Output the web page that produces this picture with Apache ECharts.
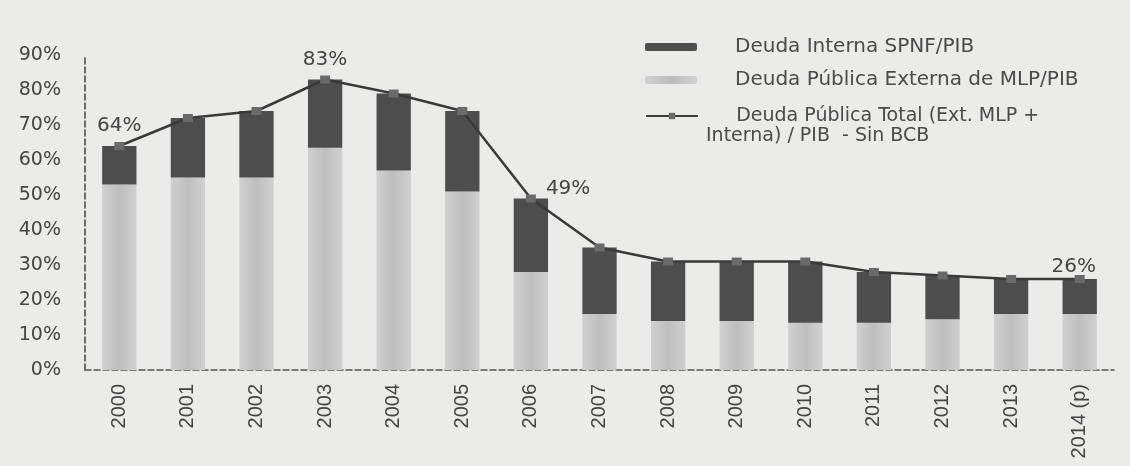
<!DOCTYPE html>
<html>
<head>
<meta charset="utf-8">
<script src="https://cdn.jsdelivr.net/npm/echarts@6/dist/echarts.min.js"></script>
<style>
  html, body { margin: 0; padding: 0; background: #ebebea; }
  #chart { width: 1130px; height: 466px; }
</style>
</head>
<body>
<div id="chart"></div>
<script>
// datos (% del PIB)
var years = ["2000", "2001", "2002", "2003", "2004", "2005", "2006", "2007",
  "2008", "2009", "2010", "2011", "2012", "2013", "2014 (p)"];
var deudaExterna = [53, 55, 55, 63.5, 57, 51, 28, 16, 14, 14, 13.5, 13.5, 14.5, 16, 16];
var deudaInterna = [11, 17, 19, 19.5, 22, 23, 21, 19, 17, 17, 17.5, 14.5, 12.5, 10, 10];
var deudaTotal = [64, 72, 74, 83, 79, 74, 49, 35, 31, 31, 31, 28, 27, 26, 26];
// años con etiqueta sobre la línea
var labelled = [0, 3, 6, 14];
var yTicks = [0, 10, 20, 30, 40, 50, 60, 70, 80, 90];

var nameInt = "Deuda Interna SPNF/PIB";
var nameExt = "Deuda Pública Externa de MLP/PIB";
var nameTot = "Deuda Pública Total (Ext. MLP + Interna) / PIB  - Sin BCB";

var wide = "DejaVu Sans, Verdana, sans-serif";

var chart = echarts.init(document.getElementById("chart"));

var totalData = deudaTotal.map(function (v, i) {
  var item = { value: v };
  if (labelled.indexOf(i) >= 0) {
    item.label = {
      show: true,
      position: i === 6 ? "right" : "top",
      distance: i === 6 ? 10 : 6,
      offset: i === 6 ? [0, -10] : (i === 14 ? [-6, 8] : [0, 0])
    };
  }
  return item;
});

// una leyenda por serie para poder colocar cada una
function legendFor(name, top, extra) {
  var l = {
    orient: "vertical",
    left: 640,
    top: top,
    itemWidth: 52,
    itemHeight: 8,
    textStyle: { fontFamily: wide, fontSize: 20, color: "#4a4a4a", padding: [0, 0, 0, 33] },
    data: [name]
  };
  if (extra) {
    for (var k in extra) l[k] = extra[k];
  }
  return l;
}

var option = {
  backgroundColor: "#ebebea",
  textStyle: { fontFamily: wide },
  grid: { left: 85, right: 16, top: 55, bottom: 96 },
  legend: [
    legendFor(nameInt, 32),
    legendFor(nameExt, 65),
    legendFor(nameTot, 81, {
      formatter: function () {
        return "\n     Deuda Pública Total (Ext. MLP +\nInterna) / PIB  - Sin BCB";
      },
      textStyle: { fontFamily: wide, fontSize: 19, lineHeight: 20, color: "#4a4a4a", padding: [0, 0, 0, 3] }
    })
  ],
  xAxis: {
    type: "category",
    data: years,
    axisLine: { lineStyle: { color: "#555", type: "dashed", width: 1.5 } },
    axisTick: { show: false },
    axisLabel: {
      rotate: 90,
      fontFamily: "Liberation Sans, Arial, sans-serif",
      fontSize: 20,
      color: "#444",
      margin: 14
    }
  },
  yAxis: {
    type: "value",
    min: 0,
    max: 90,
    interval: 10,
    splitLine: { show: false },
    axisTick: { show: false },
    axisLine: { show: true, lineStyle: { color: "#444", type: "dashed", width: 1.5 } },
    axisLabel: {
      fontSize: 19,
      color: "#444",
      margin: 24,
      formatter: function (v) { return yTicks.indexOf(v) >= 0 ? v + "%" : ""; }
    }
  },
  series: [
    {
      name: nameExt,
      type: "bar",
      stack: "deuda",
      barWidth: "50%",
      itemStyle: {
        color: new echarts.graphic.LinearGradient(0, 0, 1, 0, [
          { offset: 0, color: "#d0d0d0" },
          { offset: 0.5, color: "#bebebe" },
          { offset: 1, color: "#d0d0d0" }
        ])
      },
      data: deudaExterna
    },
    {
      name: nameInt,
      type: "bar",
      stack: "deuda",
      barWidth: "50%",
      itemStyle: { color: "#4d4d4d" },
      data: deudaInterna
    },
    {
      name: nameTot,
      type: "line",
      symbol: "rect",
      symbolSize: [10, 8],
      lineStyle: { color: "#3a3a3a", width: 2.5 },
      itemStyle: { color: "#6a6a6a" },
      label: {
        show: false,
        fontSize: 20,
        color: "#444",
        formatter: function (p) { return p.value + "%"; }
      },
      z: 5,
      data: totalData
    }
  ]
};

chart.setOption(option);
window.addEventListener("resize", function () {
  chart.resize();
});
</script>
</body>
</html>
